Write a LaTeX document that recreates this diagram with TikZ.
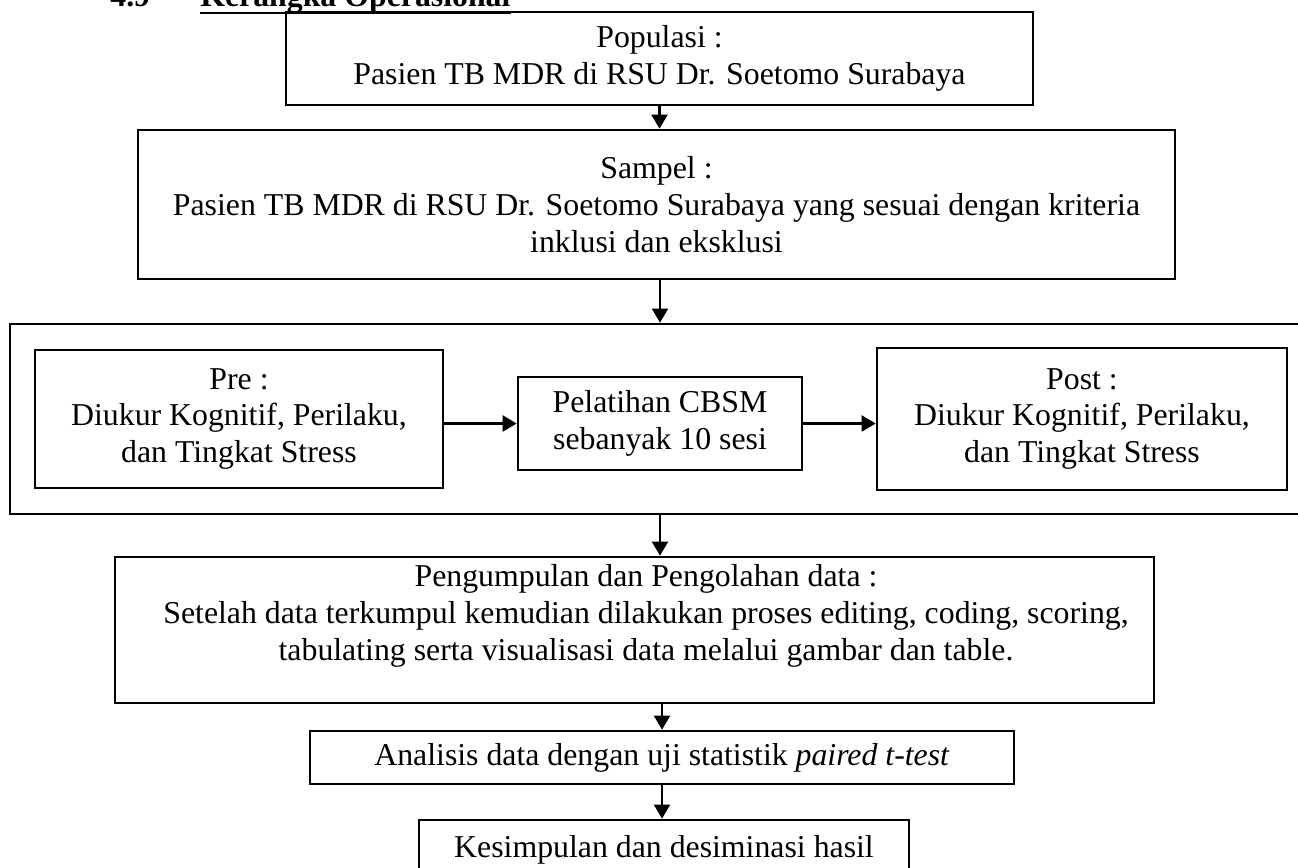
\documentclass[tikz,border=0pt]{standalone}
\usepackage{fontspec}
\setmainfont{Liberation Serif}
\usetikzlibrary{arrows.meta,calc}
\tikzset{
  box/.style={draw, line width=1.5pt, rectangle, inner sep=0pt, align=center, font=\fontsize{18.1}{21}\selectfont},
  txt/.style={inner sep=0pt, align=center, font=\fontsize{18.1}{21}\selectfont},
  arr/.style={line width=1.5pt, -{Triangle[length=8pt,width=9pt]}},
  head/.style={inner sep=0pt, anchor=base west, font=\fontsize{18.1}{21}\selectfont\bfseries},
}
\begin{document}
\begin{tikzpicture}[x=0.02cm,y=-0.02cm]
\useasboundingbox (0,0) rectangle (1298,867);
\clip (0,0) rectangle (1298,867);
% heading (cut off at the top, as in the reference)
\node[head] (hnum) at (110,6) {4.9};
\node[head] (htitle) at (200,6) {Kerangka Operasional};
\coordinate (ul) at (0,13);
\draw[line width=1.5pt] (htitle.west |- ul) -- (htitle.east |- ul);
% boxes
\node[box, minimum width=14.94cm, minimum height=1.86cm] (pop) at (659.5,58.5) {Populasi :\\Pasien TB MDR di RSU Dr. Soetomo Surabaya};
\node[box, minimum width=20.74cm, minimum height=2.98cm] (sam) at (656.5,204.5) {Sampel :\\Pasien TB MDR di RSU Dr. Soetomo Surabaya yang sesuai dengan kriteria\\inklusi dan eksklusi};
\node[box, minimum width=25.78cm, minimum height=3.8cm] (outer) at (654.5,419) {};
\node[box, minimum width=8.16cm, minimum height=2.76cm] (pre) at (239,419) {Pre :\\Diukur Kognitif, Perilaku,\\dan Tingkat Stress};
\node[box, minimum width=5.68cm, minimum height=1.86cm] (pel) at (660,423.5) {Pelatihan CBSM\\sebanyak 10 sesi};
\node[box, minimum width=8.2cm, minimum height=2.84cm] (post) at (1082,419) {Post :\\Diukur Kognitif, Perilaku,\\dan Tingkat Stress};
\node[box, minimum width=20.78cm, minimum height=2.92cm] (peng) at (634.5,630) {};
\node[txt] (pengt) at (646,615.5) {Pengumpulan dan Pengolahan data :\\Setelah data terkumpul kemudian dilakukan proses editing, coding, scoring,\\tabulating serta visualisasi data melalui gambar dan table.};
\node[box, minimum width=14.08cm, minimum height=1.06cm] (ana) at (662,757.5) {Analisis data dengan uji statistik \textit{paired t-test}};
\node[box, minimum width=9.8cm, minimum height=1.2cm] (kes) at (664,850) {};
\node[txt, anchor=base] (kest) at (664,857) {Kesimpulan dan desiminasi hasil};
% connectors
\draw[arr] (pop.south) -- (pop.south |- sam.north);
\draw[arr] (pel |- sam.south) -- (pel |- outer.north);
\draw[arr] (pre.east |- pel.west) -- (pel.west);
\draw[arr] (pel.east) -- (post.west |- pel.east);
\draw[arr] (pel |- outer.south) -- (pel |- peng.north);
\draw[arr] (ana |- peng.south) -- (ana.north);
\draw[arr] (ana.south) -- (ana.south |- kes.north);
\end{tikzpicture}
\end{document}
